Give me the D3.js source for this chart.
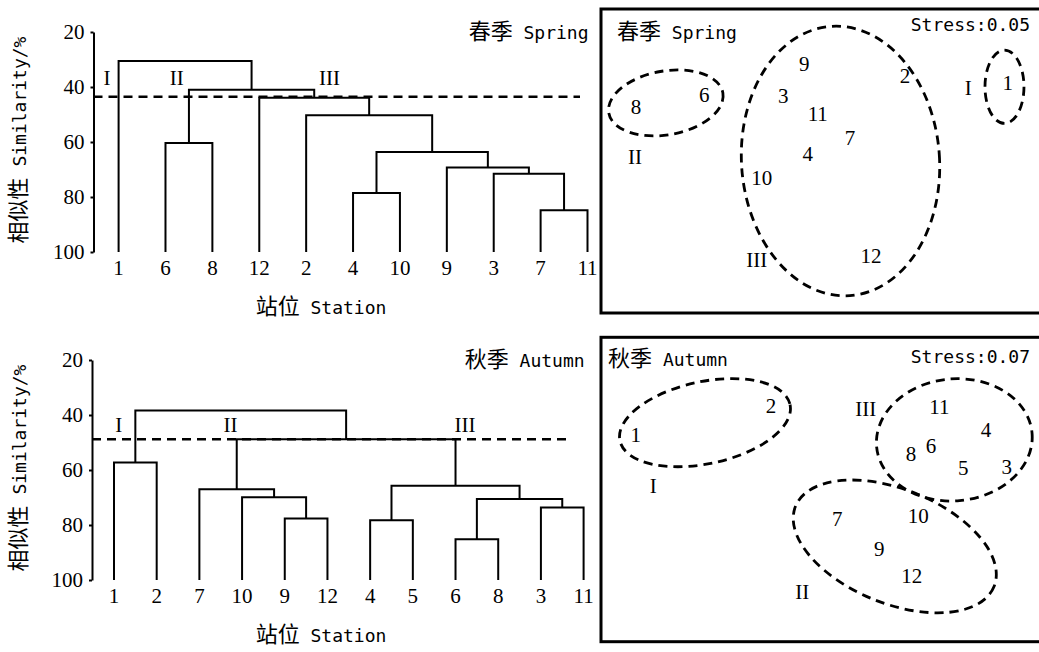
<!DOCTYPE html>
<html>
<head>
<meta charset="utf-8">
<script src="https://cdn.jsdelivr.net/npm/d3@7"></script>
<style>
body { margin: 0; background: #fff; }
svg { display: block; }
.num { font-family: "Liberation Serif", "Times New Roman", serif; font-size: 21px; fill: #000; }
.roman { font-family: "Liberation Serif", "Times New Roman", serif; font-size: 21px; fill: #000; }
.cjk { font-family: "Noto Sans CJK SC", sans-serif; font-size: 22px; }
.mono { font-family: "DejaVu Sans Mono", monospace; font-size: 18px; }
.axis path, .axis line { stroke: #000; stroke-width: 2; }
.axis text { font-family: "Liberation Serif", serif; font-size: 21px; fill: #000; }
</style>
</head>
<body>
<svg id="chart" width="1039" height="652"></svg>
<script>
// 数据
var simTicks = [20, 40, 60, 80, 100];
var groupNames = ["I", "II", "III"];

// 春季 dendrogram: leaf order + linkage [a, b, similarity] (index >= n is an earlier merge)
var springLeaves = ["1", "6", "8", "12", "2", "4", "10", "9", "3", "7", "11"];
var springLinkage = [
    [9, 10, 84.8],
    [5, 6, 78.5],
    [8, 11, 71.5],
    [7, 13, 69.3],
    [12, 14, 63.6],
    [1, 2, 60.4],
    [4, 15, 50.3],
    [3, 17, 43.9],
    [16, 18, 41.0],
    [0, 19, 30.5]
];
var springCut = 43.5;

// 秋季 dendrogram
var autumnLeaves = ["1", "2", "7", "10", "9", "12", "4", "5", "6", "8", "3", "11"];
var autumnLinkage = [
    [8, 9, 85.2],
    [4, 5, 77.6],
    [6, 7, 78.3],
    [10, 11, 73.6],
    [12, 15, 70.5],
    [3, 13, 69.9],
    [2, 17, 67.0],
    [14, 16, 65.7],
    [0, 1, 57.3],
    [18, 19, 48.8],
    [20, 21, 38.4]
];
var autumnCut = 48.8;

// NMDS ordination (station, dim1, dim2)
var springStations = ["9", "2", "3", "11", "7", "4", "10", "12", "8", "6", "1"];
var springDim1 = [-0.114, 0.573, -0.257, -0.022, 0.198, -0.091, -0.404, 0.341, -1.261, -0.796, 1.273];
var springDim2 = [0.638, 0.559, 0.430, 0.309, 0.156, 0.051, -0.110, -0.625, 0.357, 0.439, 0.515];
var springStress = 0.05;
// group ellipses: [cx, cy, rx, ry, angle]
var springEllipses = [
    [1.251, 0.488, 0.133, 0.241, 0],
    [-1.058, 0.382, 0.395, 0.210, -10],
    [0.133, 0.0, 0.675, 0.888, -4]
];

var autumnStations = ["2", "1", "11", "4", "6", "8", "5", "3", "7", "10", "9", "12"];
var autumnDim1 = [-0.341, -1.263, 0.807, 1.125, 0.750, 0.614, 0.970, 1.266, 0.111, 0.663, 0.397, 0.618];
var autumnDim2 = [0.549, 0.359, 0.545, 0.391, 0.288, 0.238, 0.143, 0.150, -0.189, -0.174, -0.387, -0.569];
var autumnStress = 0.07;
var autumnEllipses = [
    [-0.791, 0.439, 0.593, 0.270, -12],
    [0.503, -0.374, 0.730, 0.375, 22],
    [0.909, 0.326, 0.532, 0.401, -5]
];

var svg = d3.select("#chart");

function mixText(sel, cn, en) {
    sel.append("tspan").attr("class", "cjk").text(cn);
    sel.append("tspan").attr("class", "mono").text(" " + en);
}

function dendrogram(o) {
    var g = svg.append("g");
    var n = o.leaves.length;
    var y = d3.scaleLinear().domain([20, 100]).range(o.yRange);
    var xi = d3.scaleLinear().domain([0, n - 1]).range(o.xRange);

    // axis
    g.append("g").attr("class", "axis")
        .attr("transform", "translate(" + o.axisX + ",0)")
        .call(d3.axisLeft(y).tickValues(simTicks).tickSize(3).tickSizeOuter(0).tickPadding(6));

    // nodes
    var nodes = o.leaves.map(function(d, i) { return {x: xi(i), s: 100}; });
    o.linkage.forEach(function(m) {
        var a = nodes[m[0]], b = nodes[m[1]];
        nodes.push({x: (a.x + b.x) / 2, s: m[2], a: a, b: b});
    });
    var links = nodes.filter(function(d) { return d.a; });
    g.selectAll(".link").data(links).enter().append("path")
        .attr("class", "link")
        .attr("fill", "none").attr("stroke", "#000").attr("stroke-width", 2)
        .attr("d", function(d) {
            return "M" + d.a.x + "," + y(d.a.s) + "V" + y(d.s) + "H" + d.b.x + "V" + y(d.b.s);
        });

    // leaf labels
    g.selectAll(".leaf").data(o.leaves).enter().append("text")
        .attr("class", "num")
        .attr("text-anchor", "middle")
        .attr("x", function(d, i) { return xi(i); })
        .attr("y", y(100) + 16).attr("dy", "0.35em")
        .text(function(d) { return d; });

    // cut line
    g.append("line")
        .attr("x1", o.axisX).attr("x2", xi(o.cutEnd))
        .attr("y1", y(o.cut)).attr("y2", y(o.cut))
        .attr("stroke", "#000").attr("stroke-width", 2.5).attr("stroke-dasharray", "9,6");

    // group labels
    g.selectAll(".grp").data(groupNames).enter().append("text")
        .attr("class", "roman").attr("text-anchor", "middle")
        .attr("x", function(d, i) { return xi(o.groupX[i]); })
        .attr("y", y(o.groupS)).attr("dy", "0.35em")
        .text(function(d) { return d; });

    // season label
    var t = g.append("text").attr("text-anchor", "end")
        .attr("x", xi(n - 1) + 1).attr("y", y(20) + 1).attr("dy", "0.35em");
    mixText(t, o.cn, o.en);

    // axis titles
    var yt = g.append("text").attr("text-anchor", "middle")
        .attr("transform", "translate(20," + (y(60) - 2) + ") rotate(-90)").attr("dy", "0.35em");
    mixText(yt, "相似性", "Similarity/%");
    var xt = g.append("text").attr("text-anchor", "middle")
        .attr("x", 321).attr("y", y(100) + 56).attr("dy", "0.35em");
    mixText(xt, "站位", "Station");
}

function nmds(o) {
    var g = svg.append("g");
    var x = d3.scaleLinear().domain([-1.5, 1.5]).range([601, 1041]);
    var y = d3.scaleLinear().domain([-1, 1]).range(o.yRange);

    g.append("rect")
        .attr("x", x(-1.5)).attr("y", y(1))
        .attr("width", 480).attr("height", y(-1) - y(1))
        .attr("fill", "none").attr("stroke", "#000").attr("stroke-width", 3);

    g.selectAll(".ell").data(o.ellipses).enter().append("ellipse")
        .attr("transform", function(d) { return "translate(" + x(d[0]) + "," + y(d[1]) + ") rotate(" + d[4] + ")"; })
        .attr("rx", function(d) { return x(d[2]) - x(0); })
        .attr("ry", function(d) { return y(0) - y(d[3]); })
        .attr("fill", "none").attr("stroke", "#000").attr("stroke-width", 2.8)
        .attr("stroke-dasharray", "9,6");

    g.selectAll(".st").data(o.stations).enter().append("text")
        .attr("class", "num").attr("text-anchor", "middle")
        .attr("x", function(d, i) { return x(o.dim1[i]); })
        .attr("y", function(d, i) { return y(o.dim2[i]); })
        .attr("dy", "0.35em")
        .text(function(d) { return d; });

    g.selectAll(".grp").data(groupNames).enter().append("text")
        .attr("class", "roman").attr("text-anchor", "middle")
        .attr("x", function(d, i) { return x(o.groupPos[i][0]); })
        .attr("y", function(d, i) { return y(o.groupPos[i][1]); })
        .attr("dy", "0.35em")
        .text(function(d) { return d; });

    var t = g.append("text").attr("x", x(o.titleX)).attr("y", y(o.titleY)).attr("dy", "0.35em");
    mixText(t, o.cn, o.en);

    g.append("text").attr("class", "mono").attr("text-anchor", "end")
        .attr("x", x(1.425)).attr("y", y(o.stressY)).attr("dy", "0.35em")
        .text("Stress:" + o.stress.toFixed(2));
}

dendrogram({
    leaves: springLeaves, linkage: springLinkage, cut: springCut, cutEnd: 9.84,
    yRange: [32, 252], xRange: [118.6, 587.5], axisX: 93.5,
    groupX: [-0.25, 1.24, 4.5], groupS: 36.7, cn: "春季", en: "Spring"
});
dendrogram({
    leaves: autumnLeaves, linkage: autumnLinkage, cut: autumnCut, cutEnd: 10.59,
    yRange: [360, 580], xRange: [114, 583.6], axisX: 92,
    groupX: [0.11, 2.73, 8.22], groupS: 43.6, cn: "秋季", en: "Autumn"
});

nmds({
    stations: springStations, dim1: springDim1, dim2: springDim2, ellipses: springEllipses,
    stress: springStress, yRange: [313, 9],
    groupPos: [[1.004, 0.482], [-1.268, 0.028], [-0.438, -0.651]],
    titleX: -1.391, titleY: 0.842, stressY: 0.895, cn: "春季", en: "Spring"
});
nmds({
    stations: autumnStations, dim1: autumnDim1, dim2: autumnDim2, ellipses: autumnEllipses,
    stress: autumnStress, yRange: [641.7, 337.3],
    groupPos: [[-1.143, 0.023], [-0.128, -0.672], [0.305, 0.528]],
    titleX: -1.452, titleY: 0.847, stressY: 0.872, cn: "秋季", en: "Autumn"
});
</script>
</body>
</html>
